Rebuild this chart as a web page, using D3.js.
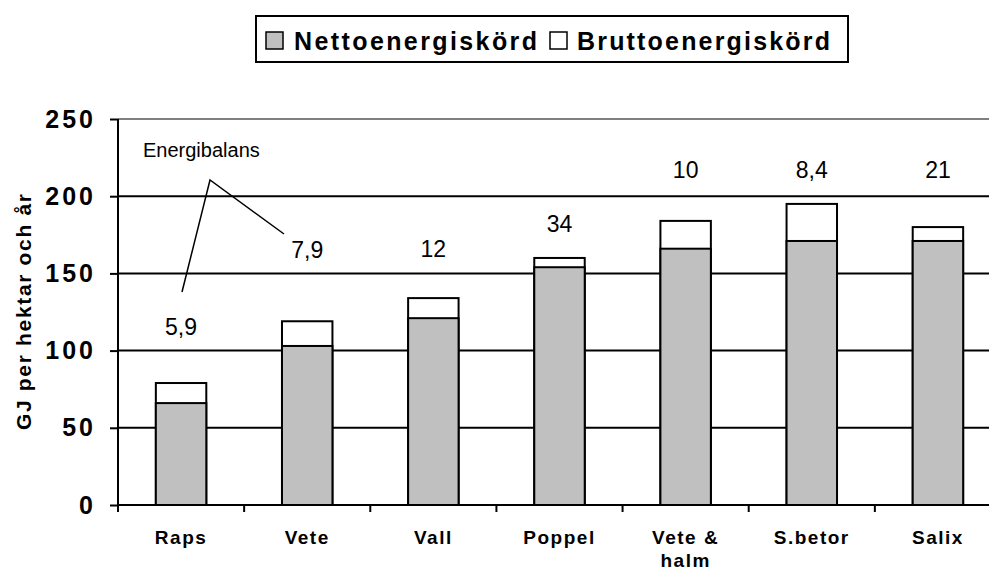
<!DOCTYPE html>
<html>
<head>
<meta charset="utf-8">
<script src="https://cdn.jsdelivr.net/npm/d3@7"></script>
<style>
  body { margin: 0; background: #fff; }
  svg { display: block; font-family: "Liberation Sans", Arial, sans-serif; }
</style>
</head>
<body>
<svg id="chart"></svg>
<script>
// data
const crops = ["Raps", "Vete", "Vall", "Poppel", "Vete & halm", "S.betor", "Salix"];
const netto = [66, 103, 121, 154, 166, 171, 171];
const brutto = [79, 119, 134, 160, 184, 195, 180];
const balans = ["5,9", "7,9", "12", "34", "10", "8,4", "21"];
// where the balance labels sit, in GJ
const balansAt = [115, 165, 166, 182, 217, 217, 217];
const yTicks = [0, 50, 100, 150, 200, 250];
const seriesNames = ["Nettoenergiskörd", "Bruttoenergiskörd"];

const W = 989, H = 577;
let margin = { top: 119, right: -12, bottom: 72, left: 118 },
    width = W - margin.left - margin.right,
    height = H - margin.top - margin.bottom;

const svg = d3.select("#chart").attr("width", W).attr("height", H);
const g = svg.append("g")
    .attr("transform", "translate(" + margin.left + "," + margin.top + ")");

const x = d3.scaleBand().domain(crops).range([0, width]).paddingInner(0.6).paddingOuter(0.3);
const xb = d3.scaleBand().domain(crops).range([0, width]);
const y = d3.scaleLinear().domain([0, 250]).range([height, 0]);

// gridlines
g.selectAll(".grid")
    .data(yTicks.filter(d => d > 0))
    .enter().append("line")
    .attr("x1", 0).attr("x2", width)
    .attr("y1", d => y(d)).attr("y2", d => y(d))
    .attr("stroke", d => d === 250 ? "#808080" : "#000")
    .attr("stroke-width", 2);

// bars: gross (white) behind, net (gray) in front
g.selectAll(".brutto")
    .data(crops)
    .enter().append("rect")
    .attr("x", d => x(d))
    .attr("width", x.bandwidth())
    .attr("y", (d, i) => y(brutto[i]))
    .attr("height", (d, i) => y(0) - y(brutto[i]))
    .attr("fill", "#fff").attr("stroke", "#000").attr("stroke-width", 2);

g.selectAll(".netto")
    .data(crops)
    .enter().append("rect")
    .attr("x", d => x(d))
    .attr("width", x.bandwidth())
    .attr("y", (d, i) => y(netto[i]))
    .attr("height", (d, i) => y(0) - y(netto[i]))
    .attr("fill", "#c0c0c0").attr("stroke", "#000").attr("stroke-width", 2);

// y axis
const yAxis = g.append("g")
    .call(d3.axisLeft(y).tickValues(yTicks).tickSize(8).tickPadding(14));
yAxis.select(".domain").attr("stroke-width", 2).attr("d", "M0," + y(250) + "V" + y(0));
yAxis.selectAll(".tick line").attr("stroke-width", 2);
yAxis.selectAll("text")
    .attr("font-size", 25).attr("font-weight", "bold")
    .attr("letter-spacing", 3).attr("fill", "#000")
    .attr("font-family", "Liberation Sans, Arial, sans-serif");

// x axis
const xAxis = g.append("g").attr("transform", "translate(0," + height + ")");
xAxis.append("line").attr("x1", 0).attr("x2", width).attr("stroke", "#000").attr("stroke-width", 2);
xAxis.selectAll(".xt")
    .data(crops.concat(["_end"]))
    .enter().append("line")
    .attr("x1", (d, i) => i * xb.step()).attr("x2", (d, i) => i * xb.step())
    .attr("y1", 0).attr("y2", 7)
    .attr("stroke", "#000").attr("stroke-width", 2);

xAxis.selectAll(".xl")
    .data(crops)
    .enter().append("text")
    .attr("text-anchor", "middle")
    .attr("font-size", 19).attr("font-weight", "bold").attr("letter-spacing", 1.5)
    .attr("transform", d => "translate(" + (xb(d) + xb.bandwidth() / 2) + ",0)")
    .each(function (d) {
        const parts = d === "Vete & halm" ? ["Vete &", "halm"] : [d];
        d3.select(this).selectAll("tspan")
            .data(parts)
            .enter().append("tspan")
            .attr("x", 0)
            .attr("y", (p, k) => 39 + k * 23)
            .text(p => p);
    });

// y axis title
svg.append("text")
    .attr("transform", "translate(31," + (margin.top + y(125)) + ") rotate(-90)")
    .attr("text-anchor", "middle")
    .attr("font-size", 21).attr("font-weight", "bold")
    .attr("textLength", 236).attr("lengthAdjust", "spacing")
    .text("GJ per hektar och år");

// energy balance labels
g.selectAll(".balans")
    .data(crops)
    .enter().append("text")
    .attr("x", d => xb(d) + xb.bandwidth() / 2)
    .attr("y", (d, i) => y(balansAt[i]))
    .attr("dy", "0.35em")
    .attr("text-anchor", "middle")
    .attr("font-size", 23)
    .text((d, i) => balans[i]);

// Energibalans callout
svg.append("text")
    .attr("x", 143).attr("y", 157)
    .attr("font-size", 20)
    .text("Energibalans");
svg.append("path")
    .attr("d", "M182,292L210,180L284,234")
    .attr("fill", "none").attr("stroke", "#000").attr("stroke-width", 1.5);

// legend
const legend = svg.append("g");
legend.append("rect")
    .attr("x", 256).attr("y", 16).attr("width", 592).attr("height", 46)
    .attr("fill", "#fff").attr("stroke", "#000").attr("stroke-width", 2);
const legendItems = [
    { name: seriesNames[0], fill: "#c0c0c0", x: 266, tx: 294, len: 243 },
    { name: seriesNames[1], fill: "#fff", x: 550, tx: 577, len: 253 }
];
legend.selectAll(".sw")
    .data(legendItems)
    .enter().append("rect")
    .attr("x", d => d.x).attr("y", 32).attr("width", 17).attr("height", 17)
    .attr("fill", d => d.fill).attr("stroke", "#000").attr("stroke-width", 1.5);
legend.selectAll(".lt")
    .data(legendItems)
    .enter().append("text")
    .attr("x", d => d.tx).attr("y", 50)
    .attr("font-size", 25).attr("font-weight", "bold")
    .attr("textLength", d => d.len).attr("lengthAdjust", "spacing")
    .text(d => d.name);
</script>
</body>
</html>
